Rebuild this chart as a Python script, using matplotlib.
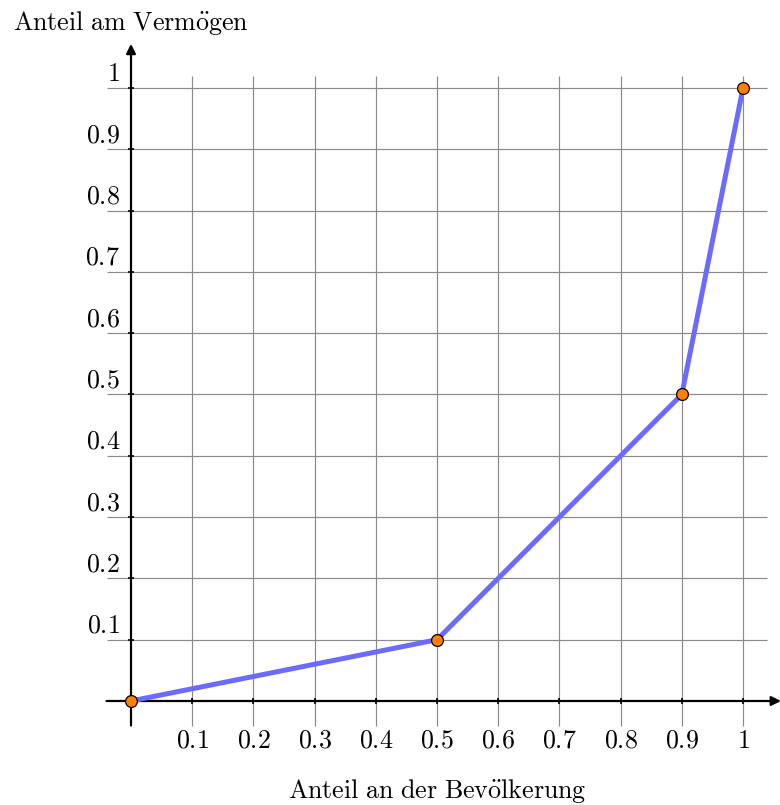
import matplotlib.pyplot as plt
from matplotlib.patches import FancyArrowPatch

# Data: Lorenz curve points
pop_share = [0, 0.5, 0.9, 1]
wealth_share = [0, 0.1, 0.5, 1]
tick_values = [0.1, 0.2, 0.3, 0.4, 0.5, 0.6, 0.7, 0.8, 0.9, 1]
tick_labels = ['0.1', '0.2', '0.3', '0.4', '0.5', '0.6', '0.7', '0.8', '0.9', '1']

plt.rcParams['mathtext.fontset'] = 'cm'
FS = 18.7

fig = plt.figure(figsize=(7.8, 8.05), dpi=100)
ax = fig.add_axes([0, 0, 1, 1])
ax.set_xlim(-131 / 612, 649 / 612)
ax.set_ylim(-104 / 613, 701 / 613)
ax.axis('off')

grid_kw = dict(color='#8a8a8a', linewidth=0.85, zorder=1)
# grid
ax.vlines(tick_values, -0.04, 1.02, **grid_kw)
ax.hlines(tick_values, -0.04, 1.04, **grid_kw)

# axes with arrows
for start, end in [((-0.04, 0), (1.062, 0)), ((0, -0.04), (0, 1.072))]:
    arr = FancyArrowPatch(start, end, arrowstyle='-|>', mutation_scale=14,
                          color='black', linewidth=1.6, zorder=3,
                          shrinkA=0, shrinkB=0)
    ax.add_patch(arr)

# small tick marks on axes
ax.vlines(tick_values, -0.005, 0.005, color='black', linewidth=1.2, zorder=3)
ax.hlines(tick_values, -0.005, 0.005, color='black', linewidth=1.2, zorder=3)

# tick labels
for v, lab in zip(tick_values, tick_labels):
    ax.text(v, -0.044, '$' + lab + '$', ha='center', va='top', fontsize=FS)
    ax.text(-0.018, v + 0.0115, '$' + lab + '$', ha='right', va='baseline', fontsize=FS)

# axis titles
ax.text(0, 1.095, r'$\mathrm{Anteil\ am\ Verm\ddot{o}gen}$', ha='center',
        va='baseline', fontsize=FS)
ax.text(0.5, -0.159, r'$\mathrm{Anteil\ an\ der\ Bev\ddot{o}lkerung}$', ha='center',
        va='baseline', fontsize=FS)

# Lorenz curve
ax.plot(pop_share, wealth_share, color='#6b6bff', linewidth=3.6, zorder=4,
        solid_capstyle='round')
ax.plot(pop_share, wealth_share, linestyle='none', marker='o', markersize=8.5,
        markerfacecolor='#ff8000', markeredgecolor='black', markeredgewidth=0.9,
        zorder=5, clip_on=False)

fig.savefig('out.png', dpi=100)
